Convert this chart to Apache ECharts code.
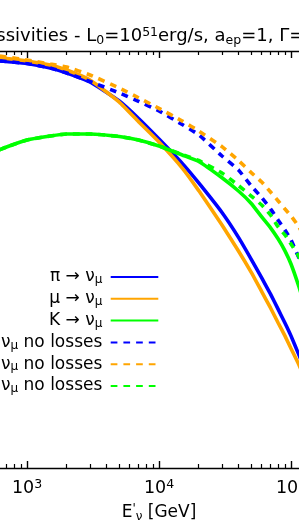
<!DOCTYPE html>
<html>
<head>
<meta charset="utf-8">
<script src="https://cdn.jsdelivr.net/npm/echarts@6/dist/echarts.min.js"></script>
<style>
html,body{margin:0;padding:0;background:#fff;}
#chart{width:299px;height:521px;}
</style>
</head>
<body>
<div id="chart"></div>
<script>
// Neutrino energy E'_nu [GeV]
const energies = [500, 700, 1000, 1500, 2000, 3000, 5000, 7000, 10000, 15000, 20000, 30000, 40000, 50000, 60000, 70000, 80000, 90000, 100000, 115000, 130000];
// Emissivities (arbitrary units, log scale)
const piNu = [0.829, 0.793, 0.759, 0.687, 0.615, 0.504, 0.331, 0.225, 0.143, 0.0835, 0.0542, 0.0282, 0.0163, 0.01004, 0.00665, 0.00465, 0.00332, 0.00246, 0.00185, 0.00121, 0.000834];
const muNu = [0.886, 0.847, 0.802, 0.734, 0.657, 0.527, 0.324, 0.210, 0.134, 0.0754, 0.0458, 0.0214, 0.01206, 0.00752, 0.00492, 0.00343, 0.00246, 0.00185, 0.00140, 0.000973, 0.000668];
const kNu = [0.1006, 0.1200, 0.1400, 0.1530, 0.1599, 0.1599, 0.1513, 0.1400, 0.1227, 0.1006, 0.0871, 0.0608, 0.0454, 0.0345, 0.0256, 0.0201, 0.0157, 0.0121, 0.00905, 0.00545, 0.00328];
const piNuNoLoss = [0.829, 0.793, 0.759, 0.687, 0.615, 0.510, 0.396, 0.329, 0.266, 0.197, 0.157, 0.0984, 0.0722, 0.0507, 0.0393, 0.0306, 0.0238, 0.0192, 0.0154, 0.0103, 0.0071];
const muNuNoLoss = [0.936, 0.876, 0.820, 0.751, 0.702, 0.589, 0.442, 0.356, 0.282, 0.213, 0.171, 0.121, 0.0891, 0.0682, 0.0554, 0.0444, 0.0364, 0.0305, 0.0262, 0.0205, 0.0154];
const kNuNoLoss = [0.1006, 0.1200, 0.1400, 0.1530, 0.1599, 0.1599, 0.1513, 0.1400, 0.1227, 0.1017, 0.0891, 0.0676, 0.0512, 0.0406, 0.0333, 0.0267, 0.0205, 0.0172, 0.0141, 0.0106, 0.0079];

const seriesNames = ['π → νμ', 'μ → νμ', 'K → νμ', 'π → νμ no losses', 'μ → νμ no losses', 'K → νμ no losses'];
const legendLabels = ['π → ν{sub|μ}', 'μ → ν{sub|μ}', 'K → ν{sub|μ}', 'π → ν{sub|μ} no losses', 'μ → ν{sub|μ} no losses', 'K → ν{sub|μ} no losses'];
const xTickLabels = {2: '10{sup|2}', 3: '10{sup|3}', 4: '10{sup|4}', 5: '10{sup|5}', 6: '10{sup|6}'};

const FONT = 'DejaVu Sans';
const colors = ['#0000ff', '#ffa500', '#00ff00'];
const LW = 3.6;

function pairs(vals) { return energies.map((e, i) => [e, vals[i]]); }

// minor tick positions (2..9 x 10^n)
const minorTicks = [];
for (let n = 2; n <= 5; n++) for (let k = 2; k <= 9; k++) minorTicks.push(k * Math.pow(10, n));

const chart = echarts.init(document.getElementById('chart'), null, {renderer: 'canvas'});

const allData = [piNu, muNu, kNu, piNuNoLoss, muNuNoLoss, kNuNoLoss];
const series = allData.map((vals, i) => ({
  type: 'line',
  name: seriesNames[i],
  xAxisIndex: 0,
  yAxisIndex: 0,
  data: pairs(vals),
  symbol: 'none',
  showSymbol: false,
  smooth: 0.15,
  clip: true,
  z: 3 + i,
  lineStyle: {
    color: colors[i % 3],
    width: LW,
    type: i < 3 ? 'solid' : [6.7, 6],
    cap: 'butt'
  },
  itemStyle: {color: colors[i % 3]}
}));

const xAxisCommon = {
  type: 'log',
  logBase: 10,
  min: 100,
  max: 1000000,
  interval: 1,
  splitLine: {show: false},
  minorTick: {show: false}
};
const majorTick = {show: true, inside: true, length: 7, lineStyle: {color: '#000', width: 1.4}};
const minorTick = {show: true, inside: true, length: 4, customValues: minorTicks, lineStyle: {color: '#000', width: 1.2}};
const axisLineStyle = {show: true, onZero: false, lineStyle: {color: '#000', width: 1.4}};

const richSubSup = {
  sub: {fontFamily: FONT, fontSize: 12, lineHeight: 12, verticalAlign: 'bottom', color: '#000'},
  sup: {fontFamily: FONT, fontSize: 12, lineHeight: 12, verticalAlign: 'top', color: '#000'}
};

chart.setOption({
  animation: false,
  backgroundColor: '#fff',
  title: {
    text: 'Emissivities - L{sub|0}=10{sup|51}erg/s, a{sub|ep}=1, Γ=300',
    left: -37.6,
    top: 26,
    padding: 0,
    textStyle: {
      fontFamily: FONT, fontSize: 18, fontWeight: 'normal', color: '#000', lineHeight: 21,
      rich: {
        sub: {fontFamily: FONT, fontSize: 12.5, lineHeight: 12, verticalAlign: 'bottom', color: '#000'},
        sup: {fontFamily: FONT, fontSize: 12.5, lineHeight: 12, verticalAlign: 'top', color: '#000'}
      }
    }
  },
  legend: {
    data: seriesNames,
    orient: 'vertical',
    align: 'right',
    right: 139.7,
    top: 268,
    padding: 0,
    itemWidth: 47.6,
    itemHeight: 14,
    itemGap: 3.8,
    itemStyle: {opacity: 0},
    formatter: function (name) { return legendLabels[seriesNames.indexOf(name)]; },
    textStyle: {
      fontFamily: FONT, fontSize: 17, color: '#000', lineHeight: 18, padding: [0, 3.4, 0, 0],
      rich: {
        sub: {fontFamily: FONT, fontSize: 12, lineHeight: 12, verticalAlign: 'bottom', color: '#000'}
      }
    }
  },
  grid: {
    left: -105,
    right: -124,
    top: 51,
    bottom: 53,
    containLabel: false,
    outerBoundsMode: 'none'
  },
  xAxis: [
    Object.assign({}, xAxisCommon, {
      position: 'bottom',
      axisLine: axisLineStyle,
      axisTick: majorTick,
      name: "E{sup|'}{sub|ν} [GeV]",
      nameLocation: 'middle',
      nameGap: 29,
      nameTextStyle: {
        fontFamily: FONT, fontSize: 17, color: '#000', lineHeight: 20,
        rich: richSubSup
      },
      axisLabel: {
        show: true,
        margin: 10,
        formatter: function (v) { return xTickLabels[Math.round(Math.log10(v))] || ''; },
        fontFamily: FONT, fontSize: 17.5, color: '#000', lineHeight: 20,
        rich: {
          sup: {fontFamily: FONT, fontSize: 12.5, lineHeight: 12, verticalAlign: 'top', color: '#000'}
        }
      }
    }),
    Object.assign({}, xAxisCommon, {
      position: 'top',
      axisLine: axisLineStyle,
      axisTick: majorTick,
      axisLabel: {show: false}
    }),
    Object.assign({}, xAxisCommon, {
      position: 'bottom',
      axisLine: {show: false, onZero: false},
      axisTick: minorTick,
      axisLabel: {show: false}
    }),
    Object.assign({}, xAxisCommon, {
      position: 'top',
      axisLine: {show: false, onZero: false},
      axisTick: minorTick,
      axisLabel: {show: false}
    })
  ],
  yAxis: {
    type: 'log',
    logBase: 10,
    min: 0.0001,
    max: 1,
    axisLine: {show: true, lineStyle: {color: '#000'}},
    axisTick: {show: false},
    axisLabel: {show: false},
    splitLine: {show: false}
  },
  series: series
});
</script>
</body>
</html>
